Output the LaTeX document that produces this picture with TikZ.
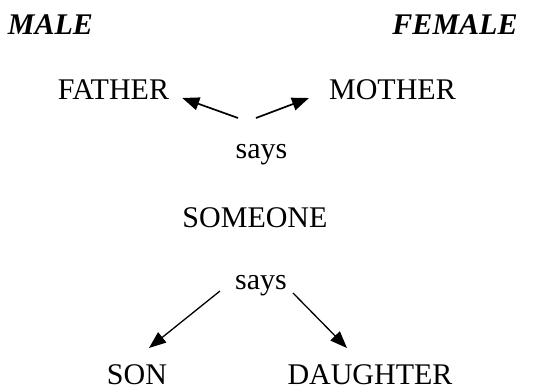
\documentclass[tikz,border=0pt]{standalone}
\usepackage{fontspec}
\setmainfont{Liberation Serif}
\usetikzlibrary{arrows.meta,calc}
\begin{document}
\begin{tikzpicture}[x=1pt,y=-1pt,
  lbl/.style={inner sep=0pt,anchor=base,font=\fontsize{30}{36}\selectfont},
  hdr/.style={lbl,font=\fontsize{30}{36}\selectfont\bfseries\itshape},
  arrA/.style={line width=1.7pt,-{Triangle[length=17pt,width=13pt]}},
  arrB/.style={line width=1.3pt,-{Triangle[length=17pt,width=13pt]}}]
\useasboundingbox (0,0) rectangle (558,391);
\node[hdr] (male) at (50.5,34) {MALE};
\node[hdr] (female) at (455,34) {FEMALE};
\node[lbl] (father) at (113.5,99) {FATHER};
\node[lbl] (mother) at (392.5,99) {MOTHER};
\node[lbl] (says1) at (261.5,158) {says};
\node[lbl] (someone) at (255,227) {SOMEONE};
\node[lbl] (says2) at (261,289) {says};
\node[lbl] (son) at (137,384) {SON};
\node[lbl] (daughter) at (370,384) {DAUGHTER};
\coordinate (s1l) at (238,118);
\coordinate (s1r) at (256,118);
\coordinate (s2l) at (220,291);
\coordinate (s2r) at (293,293);
\draw[arrA] (s1l) -- ($(father.base east)+(13,-1)$);
\draw[arrA] (s1r) -- ($(mother.base west)+(-20,-1)$);
\draw[arrB] (s2l) -- ($(son.base)+(12,-36)$);
\draw[arrB] (s2r) -- ($(daughter.base)+(-23,-36)$);
\end{tikzpicture}
\end{document}
